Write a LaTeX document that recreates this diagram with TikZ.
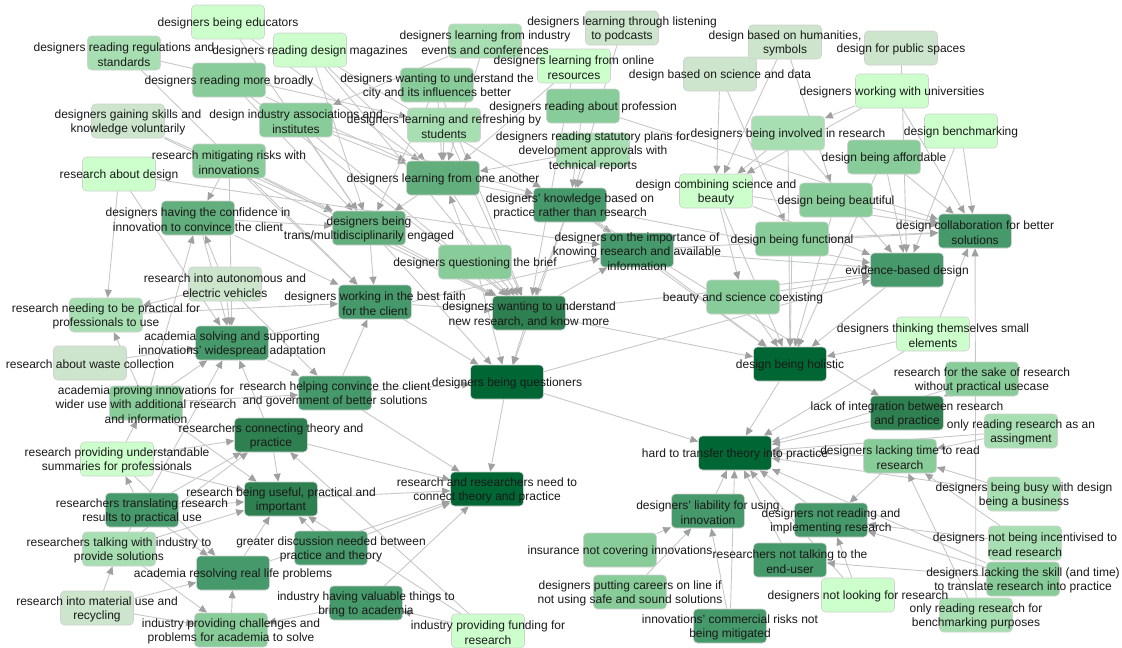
\documentclass[tikz,border=0pt]{standalone}
\usepackage{fontspec}
\setmainfont{Liberation Sans}
\usetikzlibrary{arrows.meta}
\definecolor{cA}{HTML}{CCFFCC}
\definecolor{cB}{HTML}{CCE5CC}
\definecolor{cC}{HTML}{A8DFB2}
\definecolor{cD}{HTML}{88CC99}
\definecolor{cE}{HTML}{62AE7C}
\definecolor{cF}{HTML}{46996A}
\definecolor{cG}{HTML}{2E8050}
\definecolor{cH}{HTML}{006633}
\definecolor{edgec}{HTML}{C8C8C8}
\definecolor{tipc}{HTML}{A0A0A0}
\pgfdeclarelayer{bg}\pgfdeclarelayer{fg}\pgfsetlayers{bg,main,fg}
\tikzset{
 box/.style={rectangle,rounded corners=4pt,minimum width=73pt,minimum height=34pt,inner sep=0pt,draw=black!18,line width=0.6pt},
 txt/.style={inner sep=0pt,align=center,font=\fontsize{12}{14.5}\selectfont,text=black!90,yshift=-1.5pt},
 link/.style={draw=edgec,line width=0.9pt,-{Triangle[length=8pt,width=7pt,color=tipc]}},
}
\newcommand\nd[5]{\node[box,fill=#4] (#1) at (#2,#3) {};
 \begin{pgfonlayer}{fg}\node[txt] (#1-t) at (#1) {#5};\end{pgfonlayer}}
\begin{document}
\begin{tikzpicture}[x=1pt,y=-1pt]
\useasboundingbox (0,0) rectangle (1122,648);
\begin{pgfonlayer}{bg}\fill[white] (0,0) rectangle (1122,648);\end{pgfonlayer}
\nd{edu}{228}{22}{cA}{designers being educators}
\nd{regs}{124}{53}{cC}{designers reading regulations and\\standards}
\nd{broad}{229}{80}{cD}{designers reading more broadly}
\nd{skills}{128}{121}{cB}{designers gaining skills and\\knowledge voluntarily}
\nd{assoc}{296}{120}{cD}{design industry associations and\\institutes}
\nd{risks}{229}{161}{cD}{research mitigating risks with\\innovations}
\nd{resdes}{119}{174}{cA}{research about design}
\nd{conf}{198}{218}{cE}{designers having the confidence in\\innovation to convince the client}
\nd{mags}{310}{50}{cA}{designers reading design magazines}
\nd{events}{485}{41}{cC}{designers learning from industry\\events and conferences}
\nd{city}{437}{85}{cD}{designers wanting to understand the\\city and its influences better}
\nd{students}{444}{125}{cC}{designers learning and refreshing by\\students}
\nd{another}{443}{178}{cE}{designers learning from one another}
\nd{online}{574}{66}{cA}{designers learning from online\\resources}
\nd{prof}{583}{106}{cD}{designers reading about profession}
\nd{statutory}{593}{150}{cC}{designers reading statutory plans for\\development approvals with\\technical reports}
\nd{podcasts}{622}{28}{cB}{designers learning through listening\\to podcasts}
\nd{know}{570}{205}{cF}{designers' knowledge based on\\practice rather than research}
\nd{science}{720}{74}{cB}{design based on science and data}
\nd{human}{785}{42}{cB}{design based on humanities,\\symbols}
\nd{involved}{788}{133}{cC}{designers being involved in research}
\nd{combine}{716}{191}{cA}{design combining science and\\beauty}
\nd{beautiful}{836}{200}{cD}{design being beautiful}
\nd{public}{901}{48}{cB}{design for public spaces}
\nd{univ}{892}{91}{cA}{designers working with universities}
\nd{bench}{961}{131}{cA}{design benchmarking}
\nd{afford}{884}{157}{cD}{design being affordable}
\nd{auto}{225}{284}{cB}{research into autonomous and\\electric vehicles}
\nd{needing}{106}{315}{cC}{research needing to be practical for\\professionals to use}
\nd{waste}{90}{363}{cB}{research about waste collection}
\nd{solving}{232}{343}{cF}{academia solving and supporting\\innovations' widespread adaptation}
\nd{proving}{146}{403}{cD}{academia proving innovations for\\wider use with additional research\\and information}
\nd{convince}{335}{393}{cF}{research helping convince the client\\and government of better solutions}
\nd{connecting}{271}{435}{cG}{researchers connecting theory and\\practice}
\nd{trans}{369}{228}{cE}{designers being\\trans/multidisciplinarily engaged}
\nd{brief}{475}{262}{cD}{designers questioning the brief}
\nd{faith}{375}{302}{cF}{designers working in the best faith\\for the client}
\nd{newres}{529}{313}{cG}{designers wanting to understand\\new research, and know more}
\nd{questioners}{507}{382}{cH}{designers being questioners}
\nd{importance}{637}{250}{cF}{designers on the importance of\\knowing research and available\\information}
\nd{functional}{792}{239}{cD}{design being functional}
\nd{coexist}{743}{297}{cD}{beauty and science coexisting}
\nd{holistic}{790}{364}{cH}{design being holistic}
\nd{collab}{975}{231}{cF}{design collaboration for better\\solutions}
\nd{evidence}{907}{270}{cF}{evidence-based design}
\nd{small}{933}{334}{cA}{designers thinking themselves small\\elements}
\nd{sake}{982}{379}{cD}{research for the sake of research\\without practical usecase}
\nd{integration}{907}{413}{cG}{lack of integration between research\\and practice}
\nd{assignment}{1021}{431}{cC}{only reading research as an\\assingment}
\nd{summaries}{117}{459}{cA}{research providing understandable\\summaries for professionals}
\nd{translating}{142}{510}{cF}{researchers translating research\\results to practical use}
\nd{useful}{281}{499}{cG}{research being useful, practical and\\important}
\nd{talking}{119}{549}{cC}{researchers talking with industry to\\provide solutions}
\nd{resolving}{233}{573}{cF}{academia resolving real life problems}
\nd{material}{97}{608}{cB}{research into material use and\\recycling}
\nd{challenges}{231}{630}{cD}{industry providing challenges and\\problems for academia to solve}
\nd{need}{487}{489}{cH}{research and researchers need to\\connect theory and practice}
\nd{discussion}{331}{548}{cF}{greater discussion needed between\\practice and theory}
\nd{valuable}{366}{603}{cF}{industry having valuable things to\\bring to academia}
\nd{funding}{488}{631}{cA}{industry providing funding for\\research}
\nd{hard}{735}{453}{cH}{hard to transfer theory into practice}
\nd{liability}{708}{511}{cF}{designers' liability for using\\innovation}
\nd{insurance}{620}{550}{cD}{insurance not covering innovations}
\nd{notreading}{831}{520}{cF}{designers not reading and\\implementing research}
\nd{notalking}{790}{560}{cF}{researchers not talking to the\\end-user}
\nd{careers}{630}{592}{cD}{designers putting careers on line if\\not using safe and sound solutions}
\nd{commercial}{730}{626}{cF}{innovations' commercial risks not\\being mitigated}
\nd{notlooking}{858}{595}{cA}{designers not looking for research}
\nd{lacktime}{900}{456}{cD}{designers lacking time to read\\research}
\nd{busy}{1024}{494}{cC}{designers being busy with design\\being a business}
\nd{incent}{1025}{543}{cC}{designers not being incentivised to\\read research}
\nd{skill}{1023}{579}{cD}{designers lacking the skill (and time)\\to translate research into practice}
\nd{benchread}{976}{615}{cC}{only reading research for\\benchmarking purposes}
\begin{pgfonlayer}{bg}
\foreach \a/\b in {edu/trans,edu/another,regs/students,regs/faith,mags/another,mags/trans,mags/know,mags/newres,
 broad/trans,broad/newres,broad/another,skills/trans,skills/newres,assoc/another,assoc/trans,assoc/newres,assoc/know,
 events/assoc,events/another,city/another,city/trans,city/newres,students/another,students/newres,online/another,online/newres,
 prof/know,prof/collab,statutory/know,statutory/another,podcasts/know,resdes/needing,resdes/solving,resdes/importance,
 risks/conf,risks/solving,risks/trans,risks/faith,risks/newres,conf/faith,conf/solving,conf/trans,
 another/trans,another/know,another/newres,know/newres,know/importance,know/questioners,know/holistic,know/evidence,know/integration,
 trans/newres,trans/questioners,trans/faith,brief/newres,brief/questioners,brief/another,faith/questioners,faith/newres,
 newres/questioners,newres/importance,newres/holistic,newres/evidence,importance/evidence,importance/collab,importance/holistic,
 questioners/hard,questioners/evidence,questioners/need,
 science/combine,science/functional,human/combine,human/beautiful,public/evidence,univ/involved,univ/combine,univ/collab,
 involved/combine,involved/holistic,involved/evidence,bench/evidence,bench/collab,afford/collab,afford/holistic,afford/evidence,
 beautiful/collab,beautiful/holistic,functional/holistic,functional/collab,combine/coexist,combine/holistic,combine/collab,combine/evidence,
 coexist/holistic,coexist/evidence,evidence/holistic,small/collab,small/hard,small/holistic,holistic/hard,sake/integration,sake/hard,integration/hard,
 auto/solving,auto/needing,auto/convince,auto/conf,waste/solving,solving/convince,solving/importance,proving/needing,proving/solving,
 proving/convince,proving/useful,proving/conf,convince/faith,convince/need,convince/questioners,connecting/useful,connecting/need,connecting/solving,needing/faith,
 summaries/connecting,summaries/proving,summaries/useful,summaries/resolving,translating/summaries,translating/useful,translating/connecting,translating/resolving,
 talking/useful,talking/connecting,talking/challenges,talking/solving,material/resolving,material/talking,material/challenges,
 resolving/useful,resolving/need,challenges/resolving,valuable/challenges,valuable/need,funding/valuable,funding/useful,funding/connecting,
 discussion/useful,discussion/need,useful/need,
 liability/hard,insurance/liability,careers/liability,commercial/liability,commercial/hard,notalking/hard,notreading/hard,
 notlooking/notreading,notlooking/hard,lacktime/notreading,lacktime/hard,busy/lacktime,busy/hard,incent/lacktime,incent/notreading,
 skill/notreading,skill/hard,skill/notalking,benchread/lacktime,benchread/collab,assignment/lacktime,assignment/hard}
 {\draw[link] (\a) -- (\b);}
\end{pgfonlayer}
\end{tikzpicture}
\end{document}
